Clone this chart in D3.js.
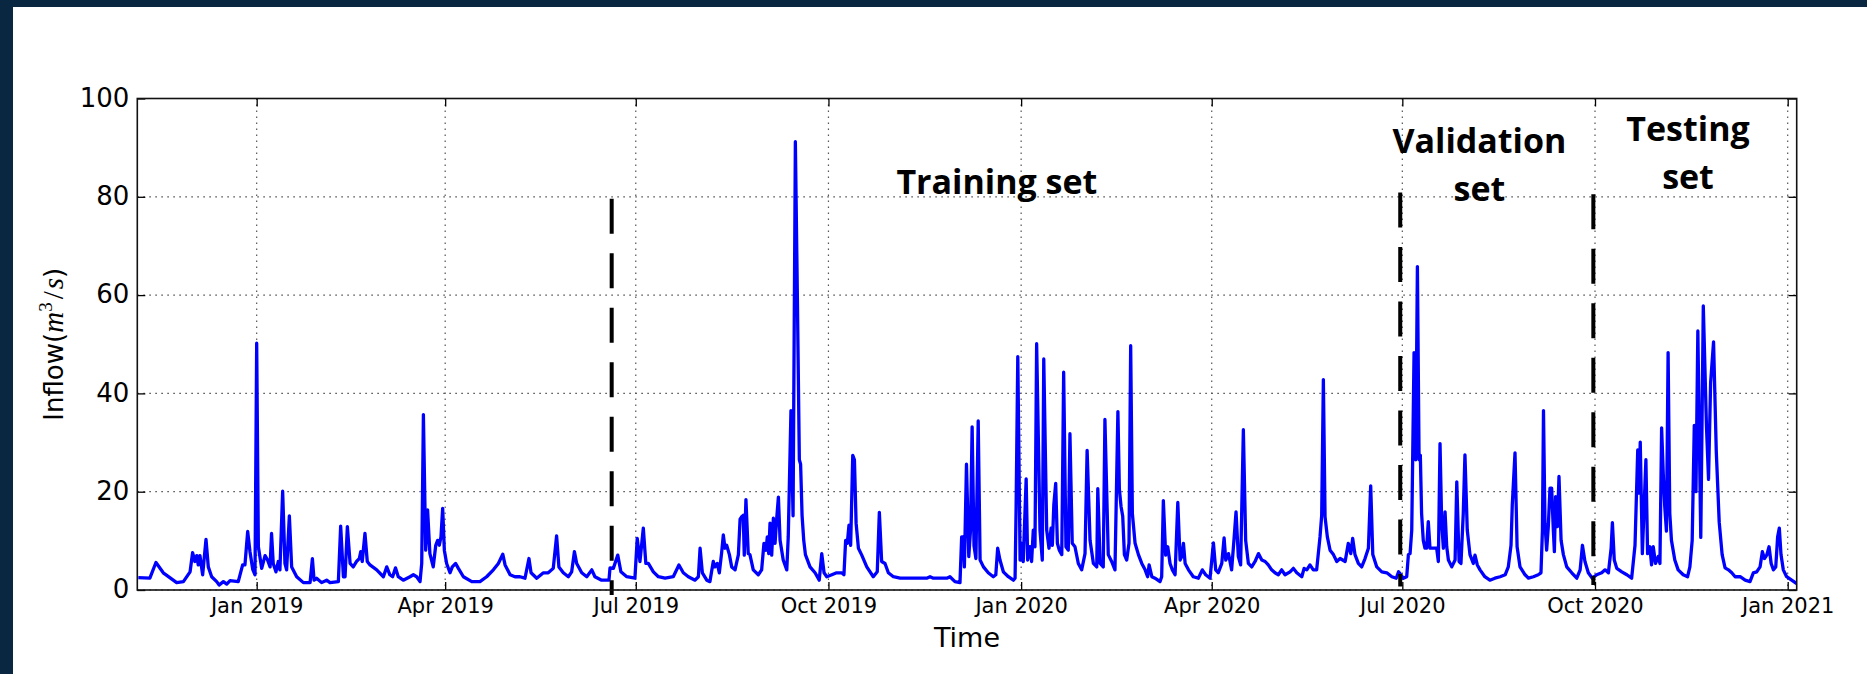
<!DOCTYPE html>
<html>
<head>
<meta charset="utf-8">
<title>Reservoir inflow</title>
<script src="https://cdn.jsdelivr.net/npm/d3@7"></script>
<style>
  html, body { margin: 0; padding: 0; background: #0a2742; }
  svg { display: block; }
</style>
</head>
<body>
<svg id="chart" width="1867" height="674"></svg>
<script>
// Daily inflow record: time in days since 1 Jan 2019, inflow in m^3/s
const dayOffset = [
  -56.5, -51, -48.1, -44.6, -38.2, -35, -31.8, -30.6, -29.5, -28.6,
  -27.9, -27.1, -25.8, -24.2, -23.1, -21.5, -19.1, -17.9, -15.9, -14.3,
  -12.7, -8.8, -6.7, -5.6, -4.3, -3.2, -1.9, -0.8, 0, 0.8,
  2.4, 4, 5.1, 6.4, 7.1, 7.9, 9.2, 10.3, 11.1, 12.4,
  13.5, 14.3, 15.6, 16.7, 19.1, 22.3, 25.5, 26.6, 27.4, 28.6,
  31, 33.4, 35, 39, 40.1, 41.4, 42.2, 43.3, 44.6, 46.1,
  47.7, 49, 49.7, 50.4, 51.7, 52.8, 54.1, 57.3, 60.5, 62.1,
  63.6, 64.9, 66.3, 67.6, 70, 73.2, 74.8, 76.4, 78, 78.8,
  79.6, 80.7, 81.6, 82.7, 84.3, 85.5, 86.4, 87.2, 88, 88.8,
  89.6, 90.7, 92.3, 93.4, 95, 96.3, 98.7, 102.7, 106.6, 109.8,
  113, 115.4, 117.5, 118.6, 121, 123.3, 125.7, 128.1, 130, 131,
  133.7, 136.9, 139.2, 141.6, 143.2, 144.3, 146.4, 148.8, 150.4, 151.7,
  152.8, 155.2, 157.6, 160, 161.5, 164.7, 168.2, 168.7, 170.3, 172.4,
  173.9, 176.7, 180.6, 181.7, 183, 184.6, 185.8, 187, 189.4, 191.8,
  195, 198.9, 201.6, 203.7, 206.1, 209.3, 210.9, 211.7, 212.8, 214.9,
  216.4, 218, 218.8, 219.9, 220.9, 222, 222.8, 223.6, 224.4, 225.7,
  226.8, 228.4, 230, 230.8, 231.6, 232.3, 232.8, 233.6, 234.7, 235.5,
  237.1, 239.5, 241.1, 242.2, 243.2, 243.8, 244.5, 245.1, 245.9, 246.7,
  247.5, 248.3, 249.1, 249.9, 251.4, 253.1, 253.8, 255.1, 256.1, 257.2,
  258.2, 259.1, 259.7, 260.4, 261.2, 262, 264.2, 266.6, 268.6, 269.8,
  270.9, 272.2, 274.6, 276.9, 279.3, 280.4, 281.2, 282, 282.8, 283.6,
  284.6, 285.4, 286.2, 287.3, 288.9, 291.3, 294.4, 296.3, 297.3, 298.4,
  300, 301.6, 304, 307.2, 313.5, 319.9, 321.5, 323.1, 329.5, 331,
  333.4, 335.8, 336.6, 337.4, 337.9, 338.9, 340, 340.8, 341.6, 342.5,
  343.4, 344.5, 345.4, 347, 349.3, 351.7, 352.9, 353.8, 354.9, 356.5,
  358.9, 361.3, 362.1, 362.6, 363.4, 364.5, 365.3, 366, 367.4, 368.1,
  369.2, 370, 370.8, 371.6, 372.4, 374, 375.1, 375.8, 377.2, 378.3,
  379.3, 379.9, 380.6, 381.5, 382.3, 383.2, 384.4, 385.3, 386.4, 387.5,
  388.3, 389.4, 390.7, 392.3, 393.9, 395.5, 396.5, 397.9, 399.5, 401.1,
  401.6, 402.7, 404.2, 405, 406.6, 408.2, 409.8, 411.2, 411.9, 412.7,
  413.5, 414.3, 415.4, 416.5, 417.3, 418.1, 419.4, 421, 422.6, 424.2,
  425.4, 426.1, 427.4, 428.9, 431.3, 432.1, 432.9, 434, 435, 436.1,
  437.2, 438.5, 439.8, 440.9, 441.7, 442.5, 443.3, 444.9, 447.2, 449.6,
  451.5, 453.1, 455.2, 456.8, 457.9, 459.1, 460.8, 461.9, 462.7, 464,
  465.5, 466.6, 467.6, 468.7, 469.8, 471.1, 472.2, 473.5, 475.1, 476.7,
  478.3, 479.9, 481.5, 483, 484.6, 486.2, 487.8, 489.4, 491, 493.4,
  495, 496.6, 499, 500.1, 501.4, 502.9, 504.5, 506.1, 507.7, 508.5,
  509.3, 510.1, 511.2, 512.5, 514.1, 515.7, 517.3, 519.7, 521.2, 522.4,
  523.3, 524.4, 526, 527.6, 529.2, 530.8, 531.9, 532.9, 534.8, 537.2,
  539.6, 542, 544.1, 545.2, 547.5, 549.1, 549.9, 550.7, 551.5, 552.6,
  553.4, 554.2, 555, 555.6, 556.2, 557, 557.8, 558.6, 559.4, 560.2,
  562.6, 563.4, 564.2, 565, 565.8, 566.6, 567.4, 568.2, 569, 570.6,
  572.2, 573, 574.1, 575, 576.1, 576.9, 578, 579.3, 580.9, 581.7,
  582.8, 584.1, 586.4, 588.8, 591.2, 593.7, 596.1, 597.6, 598.9, 599.5,
  600.8, 601.8, 603.2, 605.6, 607.2, 609.6, 611.9, 613.2, 613.9, 614.4,
  615.1, 615.9, 616.7, 617.5, 618.3, 619.1, 619.6, 620.2, 621, 621.8,
  622.8, 623.9, 625.5, 627.9, 630.3, 631.9, 633, 634.2, 635.8, 637.7,
  639.8, 642.2, 643.8, 645.4, 646.7, 647.3, 648.2, 649.4, 651.8, 654.2,
  656.5, 658.1, 659.4, 660, 660.6, 661.6, 662.5, 663.3, 664.1, 665.2,
  666, 666.8, 667.9, 669.2, 670, 670.8, 671.7, 672.3, 673.1, 673.9,
  674.7, 675.5, 677.1, 678.7, 681.1, 683.2, 684.3, 685.4, 686.4, 687.2,
  688.1, 689.5, 690.7, 692.2, 693.2, 694.2, 695.6, 696.9, 698.3, 699.7,
  701.1, 702.7, 704.3, 705.9, 708.3, 710.7, 713, 714.6, 716.2, 717.8,
  718.9, 719.9, 721, 722.1, 723.1, 724.2, 725.3, 726.2, 727, 727.8,
  728.9, 730.5, 732.9, 735.3
];
const inflow = [
  2.5, 2.4, 5.6, 3.5, 1.5, 1.7, 3.7, 7.6, 5.8, 7.0,
  5.1, 7.0, 3.1, 10.3, 4.7, 2.7, 1.7, 1.0, 1.7, 1.2,
  1.9, 1.7, 5.1, 5.1, 11.9, 7.8, 4.2, 3.1, 50.2, 8.8,
  4.4, 7.0, 6.2, 4.7, 11.5, 5.4, 3.7, 5.8, 4.1, 20.1,
  5.4, 4.1, 15.1, 4.7, 2.7, 1.5, 1.5, 6.4, 2.0, 2.4,
  1.5, 2.0, 1.5, 1.7, 13.0, 2.7, 2.7, 12.9, 5.4, 4.7,
  5.8, 6.4, 7.8, 5.8, 11.5, 5.8, 5.1, 4.1, 2.7, 4.7,
  3.1, 2.7, 4.5, 2.7, 2.0, 2.7, 3.1, 2.7, 1.7, 5.4,
  35.7, 8.1, 16.3, 7.4, 4.7, 9.1, 10.1, 9.1, 10.8, 16.6,
  8.1, 5.4, 3.5, 4.7, 5.4, 4.4, 2.7, 1.7, 1.7, 2.7,
  4.1, 5.4, 7.3, 5.1, 3.1, 2.7, 2.7, 2.4, 6.4, 3.5,
  2.4, 3.5, 3.5, 4.4, 11.0, 4.7, 3.5, 2.7, 3.7, 7.8,
  5.4, 3.5, 2.7, 4.1, 2.7, 2.0, 2.0, 4.5, 4.4, 7.1,
  3.7, 2.7, 2.4, 10.5, 5.8, 12.6, 5.4, 5.4, 3.7, 2.7,
  2.4, 2.7, 5.1, 3.5, 2.7, 2.0, 2.7, 8.5, 3.5, 2.0,
  1.7, 5.8, 4.7, 5.4, 3.5, 7.6, 11.2, 8.5, 9.1, 7.2,
  4.7, 4.1, 7.2, 14.4, 14.9, 15.2, 7.1, 18.4, 7.4, 7.2,
  4.1, 3.1, 4.1, 9.5, 8.1, 10.8, 7.4, 13.6, 7.1, 14.6,
  9.5, 14.6, 18.9, 10.1, 6.1, 4.1, 10.8, 36.5, 15.1, 91.2,
  58.3, 26.5, 25.6, 15.2, 10.1, 7.2, 4.7, 3.5, 2.0, 7.4,
  3.5, 2.7, 3.1, 3.5, 3.5, 3.1, 10.1, 9.5, 13.2, 9.1,
  27.4, 26.5, 13.6, 8.5, 7.1, 4.7, 2.7, 3.7, 15.8, 5.8,
  5.4, 3.5, 2.7, 2.4, 2.4, 2.4, 2.7, 2.4, 2.4, 2.7,
  1.7, 1.5, 10.8, 10.8, 4.7, 25.6, 6.8, 12.0, 33.2, 9.0,
  6.4, 34.4, 6.1, 4.7, 3.5, 2.7, 3.1, 8.5, 6.1, 3.7,
  2.7, 2.0, 2.4, 16.9, 47.5, 6.1, 9.5, 5.8, 22.6, 6.1,
  8.8, 5.8, 12.2, 8.8, 50.1, 12.2, 6.1, 47.0, 12.2, 8.5,
  12.6, 9.1, 17.3, 21.7, 9.5, 8.1, 7.2, 44.3, 8.8, 8.1,
  31.8, 9.5, 8.8, 5.4, 4.1, 7.4, 28.4, 10.1, 5.4, 4.7,
  20.6, 5.4, 4.7, 34.7, 7.2, 5.8, 4.1, 36.3, 20.5, 17.0,
  15.0, 7.2, 6.1, 9.5, 49.7, 15.6, 9.5, 7.2, 5.4, 4.1,
  2.7, 5.1, 2.7, 2.4, 1.7, 2.7, 18.2, 7.1, 8.8, 5.4,
  4.1, 3.1, 17.8, 6.1, 6.8, 9.5, 5.4, 4.1, 2.7, 2.4,
  4.1, 3.1, 2.4, 9.6, 4.1, 3.5, 5.4, 10.6, 6.1, 7.4,
  4.1, 10.1, 15.9, 6.8, 5.1, 32.6, 10.1, 5.4, 4.7, 5.8,
  7.4, 6.1, 5.8, 5.1, 4.1, 3.5, 3.1, 4.1, 3.1, 3.7,
  4.4, 3.5, 2.7, 4.4, 4.1, 5.1, 4.1, 4.1, 10.8, 15.2,
  42.8, 14.9, 10.8, 8.1, 7.2, 5.8, 6.4, 5.8, 9.5, 7.4,
  10.5, 7.2, 5.4, 4.7, 6.4, 8.5, 21.2, 7.2, 4.7, 3.7,
  3.5, 2.7, 2.4, 3.7, 2.4, 2.7, 7.2, 7.4, 12.2, 48.3,
  26.5, 65.8, 26.5, 27.4, 15.6, 10.1, 8.5, 8.5, 13.9, 8.5,
  8.5, 8.5, 5.8, 29.8, 13.6, 8.5, 15.9, 8.8, 6.1, 4.7,
  6.1, 22.0, 5.8, 5.4, 15.6, 27.5, 12.2, 7.2, 5.4, 7.1,
  5.1, 4.1, 2.7, 2.0, 2.4, 2.7, 3.1, 4.7, 9.1, 17.3,
  27.9, 8.8, 4.7, 3.1, 2.4, 2.7, 3.1, 3.5, 12.2, 36.5,
  13.6, 8.1, 12.9, 20.7, 20.7, 12.2, 7.8, 19.0, 12.9, 23.1,
  10.1, 7.2, 4.7, 3.5, 2.4, 4.1, 9.1, 5.8, 3.5, 2.4,
  3.1, 3.5, 4.1, 3.5, 8.5, 13.7, 6.1, 4.4, 3.7, 3.1,
  2.4, 9.1, 28.5, 19.7, 30.1, 7.4, 17.6, 26.5, 7.4, 8.8,
  5.1, 8.8, 5.4, 6.8, 5.4, 33.0, 22.4, 17.0, 12.0, 48.3,
  15.6, 10.1, 6.1, 4.1, 3.1, 2.7, 4.7, 10.1, 33.5, 20.0,
  52.7, 10.7, 57.8, 33.5, 22.5, 42.2, 50.5, 28.2, 13.8, 7.2,
  4.5, 4.1, 3.5, 2.7, 2.7, 2.0, 1.7, 3.5, 3.7, 4.7,
  7.8, 6.4, 7.1, 8.8, 5.4, 4.1, 4.7, 10.8, 12.6, 7.2,
  4.1, 2.7, 2.0, 1.3
];

// Axis settings
const xDomainDays = [-57, 735.3];
const xTickDates = ["2019-01-01", "2019-04-01", "2019-07-01", "2019-10-01",
                    "2020-01-01", "2020-04-01", "2020-07-01", "2020-10-01", "2021-01-01"];
const yTicks = [0, 20, 40, 60, 80, 100];

// Boundaries between training, validation and testing periods
const splitDays = [169.5, 546, 638.2];
const splitTop = [79.6, 80.9, 80.5];
const splitBottom = [-1.0, 0.7, 1.0];

// Period labels (one entry per text line)
const periodText = ["Training set", "Validation", "set", "Testing", "set"];
const periodDay = [353.4, 583.8, 583.8, 683.4, 683.4];
const periodLevel = [80.5, 89.0, 79.1, 91.3, 81.6];

const W = 1867, H = 674;
const plot = { left: 137.3, right: 1796.7, top: 98.5, bottom: 590 };
const DAY = 864e5;
const base = Date.UTC(2019, 0, 1);
const toDate = d => new Date(base + d * DAY);

const x = d3.scaleUtc()
  .domain(xDomainDays.map(toDate))
  .range([plot.left, plot.right]);
const y = d3.scaleLinear()
  .domain([0, 100])
  .range([plot.bottom, plot.top]);

const xTicks = xTickDates.map(s => new Date(s + "T00:00:00Z"));

const svg = d3.select("#chart");

// page frame
svg.append("rect").attr("width", W).attr("height", H).attr("fill", "#0a2742");
svg.append("rect").attr("x", 13).attr("y", 7).attr("width", W - 13).attr("height", H - 7).attr("fill", "#ffffff");

// dotted grid
const grid = svg.append("g").attr("stroke", "#555").attr("stroke-width", 1.2)
  .attr("stroke-dasharray", "1.6,4.4").attr("fill", "none");
grid.selectAll("line.gx").data(xTicks).join("line").attr("class", "gx")
  .attr("x1", d => x(d)).attr("x2", d => x(d))
  .attr("y1", plot.top).attr("y2", plot.bottom);
grid.selectAll("line.gy").data(yTicks).join("line").attr("class", "gy")
  .attr("x1", plot.left).attr("x2", plot.right)
  .attr("y1", d => y(d)).attr("y2", d => y(d));

// inflow series
svg.append("clipPath").attr("id", "plotClip").append("rect")
  .attr("x", plot.left).attr("y", plot.top)
  .attr("width", plot.right - plot.left).attr("height", plot.bottom - plot.top);

const idx = d3.range(Math.min(dayOffset.length, inflow.length));
const line = d3.line()
  .x(i => x(toDate(dayOffset[i])))
  .y(i => y(inflow[i]));
svg.append("path")
  .attr("clip-path", "url(#plotClip)")
  .attr("d", line(idx))
  .attr("fill", "none")
  .attr("stroke", "#0000ff")
  .attr("stroke-width", 3.3)
  .attr("stroke-linejoin", "round");

// period boundaries
svg.append("g").selectAll("line").data(splitDays).join("line")
  .attr("x1", d => x(toDate(d))).attr("x2", d => x(toDate(d)))
  .attr("y1", (d, i) => y(splitTop[i])).attr("y2", (d, i) => y(splitBottom[i]))
  .attr("stroke", "#000").attr("stroke-width", 4)
  .attr("stroke-dasharray", "35,19.5");

// axes (ticks point inward on all four sides)
const fontAxis = "'DejaVu Sans', 'Bitstream Vera Sans', sans-serif";
const gx = svg.append("g").attr("transform", `translate(0,${plot.bottom})`)
  .call(d3.axisBottom(x).tickValues(xTicks).tickFormat(d3.utcFormat("%b %Y"))
    .tickSize(-8).tickPadding(8));
const gxTop = svg.append("g").attr("transform", `translate(0,${plot.top})`)
  .call(d3.axisTop(x).tickValues(xTicks).tickFormat("").tickSize(-8));
const gy = svg.append("g").attr("transform", `translate(${plot.left},0)`)
  .call(d3.axisLeft(y).tickValues(yTicks).tickSize(-8).tickPadding(8));
const gyRight = svg.append("g").attr("transform", `translate(${plot.right},0)`)
  .call(d3.axisRight(y).tickValues(yTicks).tickFormat("").tickSize(-8));

[gx, gxTop, gy, gyRight].forEach(g => {
  g.select(".domain").remove();
  g.selectAll(".tick line").attr("stroke", "#000").attr("stroke-width", 1.3);
});
gx.selectAll(".tick text").attr("fill", "#000")
  .style("font-family", fontAxis).style("font-size", "21px");
gy.selectAll(".tick text").attr("fill", "#000")
  .style("font-family", fontAxis).style("font-size", "26px").attr("dy", "0.3em");

// axes box
svg.append("rect")
  .attr("x", plot.left).attr("y", plot.top)
  .attr("width", plot.right - plot.left).attr("height", plot.bottom - plot.top)
  .attr("fill", "none").attr("stroke", "#111").attr("stroke-width", 1.6);

// axis titles
svg.append("text")
  .attr("x", (plot.left + plot.right) / 2).attr("y", 647)
  .attr("text-anchor", "middle")
  .style("font-family", fontAxis).style("font-size", "27px")
  .attr("fill", "#000").text("Time");

const yt = svg.append("text")
  .attr("transform", `translate(63,${(plot.top + plot.bottom) / 2}) rotate(-90)`)
  .attr("text-anchor", "middle")
  .style("font-family", fontAxis).style("font-size", "26px").attr("fill", "#000");
yt.append("tspan").text("Inflow(");
const serif = "'Liberation Serif', 'DejaVu Serif', serif";
yt.append("tspan").style("font-family", serif).style("font-style", "italic").style("font-size", "29px").text("m");
yt.append("tspan").attr("dy", -11).style("font-family", serif).style("font-size", "19px").text("3");
yt.append("tspan").attr("dy", 11).attr("dx", 3).style("font-family", serif).style("font-size", "29px").text("/");
yt.append("tspan").attr("dx", 2).style("font-family", serif).style("font-style", "italic").style("font-size", "29px").text("s");
yt.append("tspan").text(")");

// period labels
svg.append("g").selectAll("text").data(periodText).join("text")
  .attr("x", (d, i) => x(toDate(periodDay[i])))
  .attr("y", (d, i) => y(periodLevel[i]))
  .attr("text-anchor", "middle")
  .style("font-family", "'Open Sans', sans-serif")
  .style("font-weight", "700")
  .style("font-size", "34px")
  .attr("fill", "#000")
  .text(d => d);
</script>
</body>
</html>
